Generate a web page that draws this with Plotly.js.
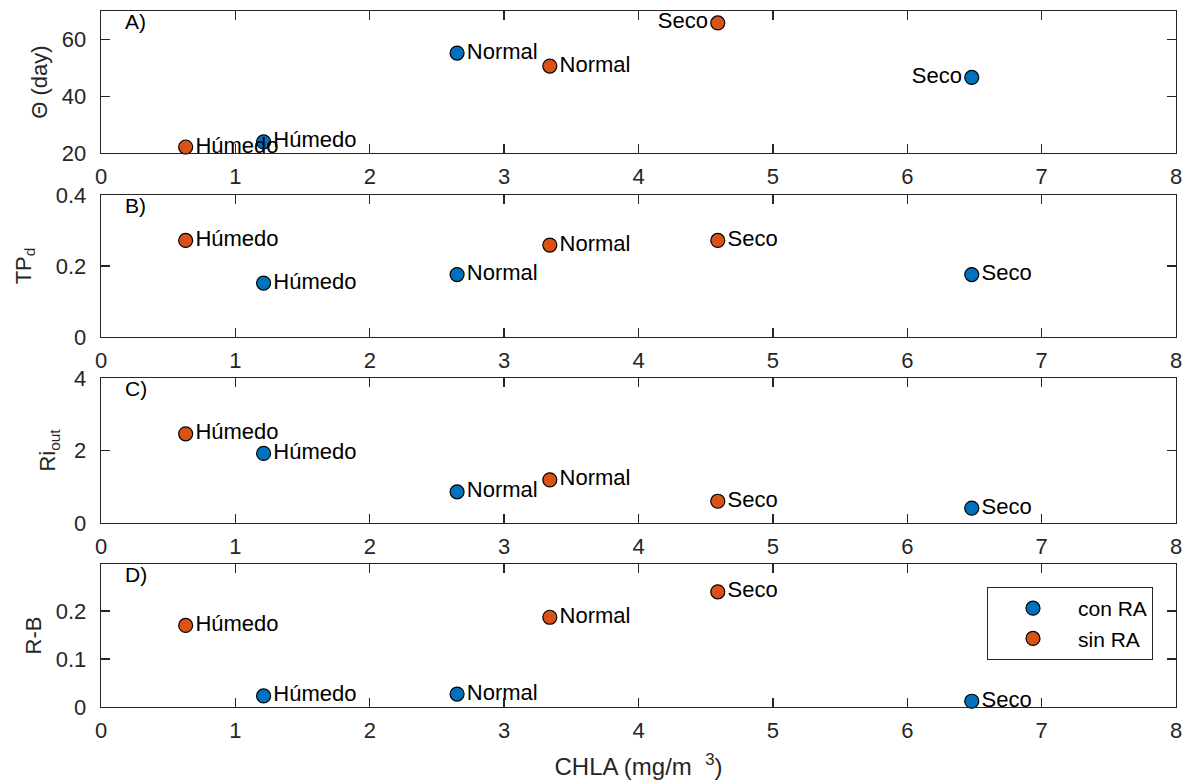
<!DOCTYPE html>
<html>
<head>
<meta charset="utf-8">
<script src="https://cdn.plot.ly/plotly-3.0.1.min.js"></script>
<style>html,body{margin:0;padding:0;background:#fff;}#chart{width:1186px;height:784px;}</style>
</head>
<body>
<div id="chart"></div>
<script>
// Data
const conCHLA = [1.21, 2.65, 6.48];
const sinCHLA = [0.63, 3.34, 4.59];
const conLabels = ["Húmedo", "Normal", "Seco"];
const sinLabels = ["Húmedo", "Normal", "Seco"];
const conTheta = [23.9, 55.2, 46.6];
const sinTheta = [22.1, 50.6, 65.8];
const conTPd = [0.152, 0.176, 0.176];
const sinTPd = [0.272, 0.259, 0.272];
const conRi = [1.92, 0.86, 0.41];
const sinRi = [2.46, 1.19, 0.60];
const conRB = [0.023, 0.027, 0.012];
const sinRB = [0.170, 0.187, 0.240];
const seriesNames = ["con RA", "sin RA"];
const panelLetters = ["A)", "B)", "C)", "D)"];
const xTicks = [0, 1, 2, 3, 4, 5, 6, 7, 8];

const blue = "#0072BD", orange = "#D95319";
const fontFam = "Liberation Sans, Arial, sans-serif";
const axCol = "#262626";

const panels = [
  {con: conTheta, sin: sinTheta, title: "Θ (day)", range: [20, 70], ticks: [20, 40, 60], domain: [0.796, 1.0], standoff: 8,
   conPos: ["middle right", "middle right", "middle left"], sinPos: ["middle right", "middle right", "middle left"]},
  {con: conTPd, sin: sinTPd, title: "TP<sub>d</sub>", range: [0, 0.4], ticks: [0, 0.2, 0.4], domain: [0.5316, 0.7356], standoff: 18,
   conPos: ["middle right", "middle right", "middle right"], sinPos: ["middle right", "middle right", "middle right"]},
  {con: conRi, sin: sinRi, title: "Ri<sub>out</sub>", range: [0, 4], ticks: [0, 2, 4], domain: [0.2644, 0.4727], standoff: 12,
   conPos: ["middle right", "middle right", "middle right"], sinPos: ["middle right", "middle right", "middle right"]},
  {con: conRB, sin: sinRB, title: "R-B", range: [0, 0.298], ticks: [0, 0.1, 0.2], domain: [0, 0.2055], standoff: 8,
   conPos: ["middle right", "middle right", "middle right"], sinPos: ["middle right", "middle right", "middle right"]}
];

const traces = [];
const layout = {
  width: 1186, height: 784,
  margin: {l: 101, r: 10, t: 11, b: 77},
  paper_bgcolor: "#fff", plot_bgcolor: "#fff",
  font: {family: fontFam, size: 20, color: axCol},
  showlegend: true,
  legend: {x: 0.9786, xanchor: "right", y: 0.1724, yanchor: "top",
           bordercolor: axCol, borderwidth: 1, bgcolor: "#fff",
           font: {size: 21, color: "#000"}, itemwidth: 80, tracegroupgap: 0},
  annotations: []
};

panels.forEach((p, i) => {
  const n = i === 0 ? "" : String(i + 1);
  const xa = "x" + n, ya = "y" + n;
  traces.push({
    type: "scatter", mode: "markers+text", x: conCHLA, y: p.con, text: conLabels,
    textposition: p.conPos, xaxis: xa, yaxis: ya, name: seriesNames[0], legendgroup: "con",
    showlegend: i === 0, cliponaxis: false,
    marker: {color: blue, size: 14, line: {color: "#000", width: 1.2}},
    textfont: {family: fontFam, size: 22, color: "#000"}
  });
  traces.push({
    type: "scatter", mode: "markers+text", x: sinCHLA, y: p.sin, text: sinLabels,
    textposition: p.sinPos, xaxis: xa, yaxis: ya, name: seriesNames[1], legendgroup: "sin",
    showlegend: i === 0, cliponaxis: false,
    marker: {color: orange, size: 14, line: {color: "#000", width: 1.2}},
    textfont: {family: fontFam, size: 22, color: "#000"}
  });
  layout["xaxis" + n] = {
    range: [0, 8], tickvals: xTicks, ticktext: xTicks.map(String), anchor: ya,
    showline: true, mirror: "ticks", linecolor: axCol, linewidth: 1.3,
    ticks: "inside", ticklen: 9, tickcolor: axCol, tickwidth: 1.3, ticklabelstandoff: 3,
    showgrid: false, zeroline: false, tickfont: {size: 22, color: axCol}, fixedrange: true,
    title: i === 3 ? {text: "CHLA (mg/m  <sup>3</sup>)", font: {size: 24, color: axCol}, standoff: 16} : {text: ""}
  };
  layout["yaxis" + n] = {
    range: p.range, tickvals: p.ticks, domain: p.domain, anchor: xa,
    showline: true, mirror: "ticks", linecolor: axCol, linewidth: 1.3,
    ticks: "inside", ticklen: 9, tickcolor: axCol, tickwidth: 1.3, ticklabelstandoff: 9,
    showgrid: false, zeroline: false, tickfont: {size: 22, color: axCol},
    title: {text: p.title, font: {size: 22, color: axCol}, standoff: p.standoff}
  };
  layout.annotations.push({
    text: panelLetters[i], xref: xa + " domain", yref: ya + " domain",
    x: 0.02, y: 1.02, xanchor: "left", yanchor: "top", showarrow: false,
    font: {family: fontFam, size: 21, color: "#000"}
  });
});

Plotly.newPlot("chart", traces, layout, {displayModeBar: false, staticPlot: true});
</script>
</body>
</html>
